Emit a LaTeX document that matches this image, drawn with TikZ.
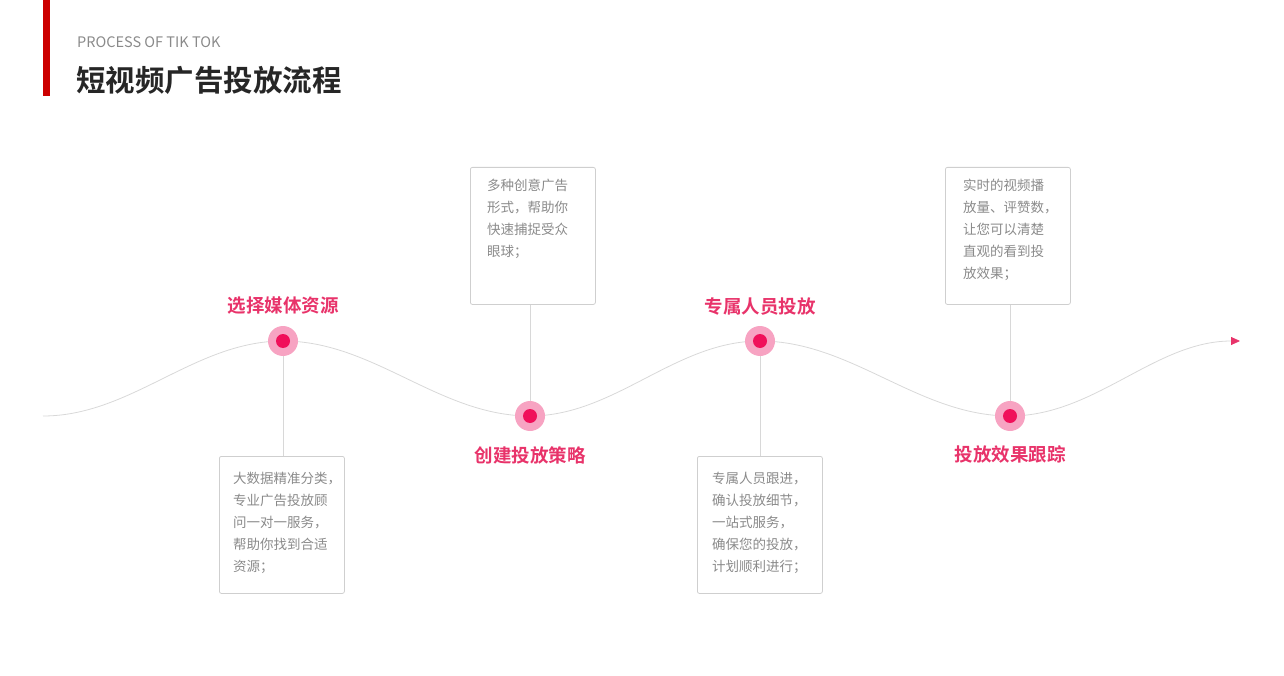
\documentclass[tikz,border=0pt]{standalone}
\usepackage{fontspec}
\setmainfont{Noto Sans CJK SC}
\newfontfamily\cjkb{Noto Sans CJK SC Bold}
\usetikzlibrary{arrows.meta}
\definecolor{pinkred}{HTML}{E8336A}
\definecolor{dotc}{HTML}{F0105A}
\definecolor{halo}{HTML}{F7A3C2}
\definecolor{txtg}{HTML}{8A8A8A}
\definecolor{lineg}{HTML}{D8D8D8}
\definecolor{boxg}{HTML}{CFCFCF}
\tikzset{
 stage/.style={font=\cjkb\fontsize{18.5}{22}\selectfont, text=pinkred},
 descbox/.style={draw=boxg, line width=0.8pt, rounded corners=2pt, minimum width=125pt, minimum height=137pt, anchor=north west},
 desc/.style={font=\fontsize{13.5}{22}\selectfont, text=txtg, align=left, anchor=north west, inner sep=0pt},
 stem/.style={draw=lineg, line width=0.8pt},
}
\begin{document}
\begin{tikzpicture}[x=1pt,y=-1pt]
\useasboundingbox (0,0) rectangle (1284,676);
\fill[red!80!black] (43,0) rectangle (50,96);
\node[anchor=west, text=txtg, font=\fontsize{14.5}{16}\selectfont, inner sep=0pt] (sub) at (77,42) {PROCESS OF TIK TOK};
\node[anchor=west, text=black!85, font=\cjkb\fontsize{29.5}{32}\selectfont, inner sep=0pt] (title) at (76,80) {短视频广告投放流程};
% wave
\coordinate (w0) at (43,416);
\coordinate (p1) at (283,341);
\coordinate (p2) at (530,416);
\coordinate (p3) at (760,341);
\coordinate (p4) at (1010,416);
\coordinate (w5) at (1240,341);
\draw[lineg, line width=0.8pt, -{Triangle[length=9pt,width=8pt,fill=pinkred,color=pinkred]}]
 (w0) to[out=0,in=180,looseness=0.9] (p1) to[out=0,in=180,looseness=0.9] (p2) to[out=0,in=180,looseness=0.9] (p3) to[out=0,in=180,looseness=0.9] (p4) to[out=0,in=180,looseness=0.9] (w5);
% boxes
\node[descbox] (b1) at (219,456) {};
\node[descbox] (b2) at (470,167) {};
\node[descbox] (b3) at (697,456) {};
\node[descbox] (b4) at (945,167) {};
\draw[stem] (p1) -- (b1.north -| p1);
\draw[stem] (p2) -- (b2.south -| p2);
\draw[stem] (p3) -- (b3.north -| p3);
\draw[stem] (p4) -- (b4.south -| p4);
\foreach \p in {p1,p2,p3,p4}{
 \fill[halo] (\p) circle (15);
 \fill[dotc] (\p) circle (7);
}
\node[stage] (s1) at (283,306) {选择媒体资源};
\node[stage] (s2) at (530,455) {创建投放策略};
\node[stage] (s3) at (760,306) {专属人员投放};
\node[stage] (s4) at (1010,454) {投放效果跟踪};
\node[desc] (d1) at (233,472) {大数据精准分类，\\专业广告投放顾\\问一对一服务，\\帮助你找到合适\\资源；};
\node[desc] (d2) at (487,179) {多种创意广告\\形式，帮助你\\快速捕捉受众\\眼球；};
\node[desc] (d3) at (712,472) {专属人员跟进，\\确认投放细节，\\一站式服务，\\确保您的投放，\\计划顺利进行；};
\node[desc] (d4) at (963,179) {实时的视频播\\放量、评赞数，\\让您可以清楚\\直观的看到投\\放效果；};
\end{tikzpicture}
\end{document}
